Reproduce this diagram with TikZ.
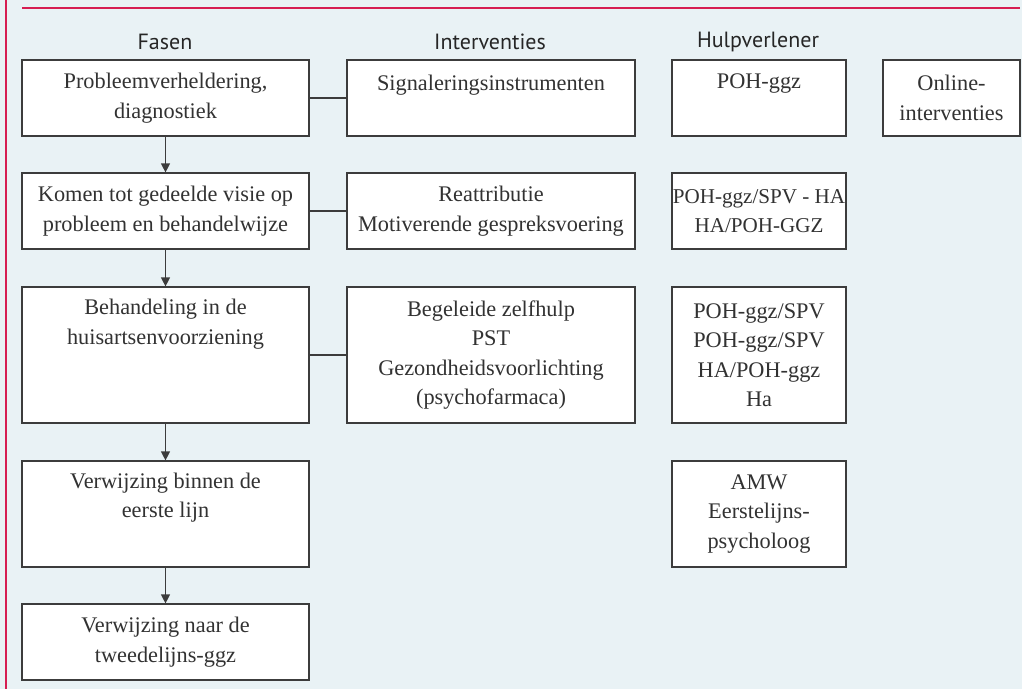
\documentclass[tikz,border=0pt]{standalone}
\usepackage{fontspec}
\setmainfont{Liberation Serif}
\newfontfamily\headfont{PT Sans}
\usetikzlibrary{arrows.meta,calc}
\definecolor{bgblue}{RGB}{233,242,245}
\definecolor{redline}{RGB}{214,30,82}
\definecolor{boxline}{RGB}{60,60,60}
\definecolor{txtgray}{RGB}{50,50,50}
\tikzset{
  box/.style={draw=boxline, line width=1.2pt, fill=white, inner sep=0pt, minimum height=76pt},
  fcol/.style={minimum width=287pt},
  icol/.style={minimum width=288pt},
  hcol/.style={minimum width=174pt},
  txt/.style={text=txtgray, align=center, inner sep=0pt, font=\fontsize{22.3}{29.5}\selectfont},
  head/.style={text=black!85, inner sep=0pt, font=\headfont\fontsize{22}{26}\selectfont},
  conn/.style={draw=boxline, line width=1.2pt},
  arr/.style={conn, -{Triangle[length=9pt,width=9pt]}},
}
\begin{document}
\begin{tikzpicture}[x=1pt,y=-1pt]
\useasboundingbox (0,0) rectangle (1022,689);
\fill[bgblue] (0,0) rectangle (1022,689);
\draw[redline, line width=2pt] (6,0) -- (6,689);
\draw[redline, line width=1.5pt] (22,8) -- (1020,8);

% headers
\node[head] (hf) at (165,42) {Fasen};
\node[head] (hi) at (490,42) {Interventies};
\node[head] (hh) at (758,42) {Hulpverlener};

% Fasen column
\node[box,fcol,txt] (f1) at (165.5,98) {Probleemverheldering,\\diagnostiek};
\node[box,fcol,txt] (f2) at (165.5,211) {Komen tot gedeelde visie op\\probleem en behandelwijze};
\node[box,fcol,minimum height=136pt] (f3) at (165.5,355) {};
\node[txt] (f3t) at ($(f3.north)+(0,38)$) {Behandeling in de\\huisartsenvoorziening};
\node[box,fcol,minimum height=106pt] (f4) at (165.5,514) {};
\node[txt] (f4t) at ($(f4.north)+(0,37)$) {Verwijzing binnen de\\eerste lijn};
\node[box,fcol,txt] (f5) at (165.5,642) {Verwijzing naar de\\tweedelijns-ggz};

% Interventies column
\node[box,icol,txt] (i1) at (491,98) {Signaleringsinstrumenten\\ };
\node[box,icol,txt] (i2) at (491,211) {Reattributie\\Motiverende gespreksvoering};
\node[box,icol,txt,minimum height=136pt] (i3) at (491,355) {Begeleide zelfhulp\\PST\\Gezondheidsvoorlichting\\(psychofarmaca)};

% Hulpverlener column
\node[box,hcol] (h1) at (759,98) {};
\node[txt] (h1t) at ($(h1.north)+(0,24)$) {POH-ggz};
\node[box,hcol] (h2) at (759,211) {};
\node[txt, font=\fontsize{21.1}{29.5}\selectfont] (h2t) at (h2.center) {POH-ggz/SPV - HA\\HA/POH-GGZ};
\node[box,hcol,txt,minimum height=136pt] (h3) at (759,355) {POH-ggz/SPV\\POH-ggz/SPV\\HA/POH-ggz\\Ha};
\node[box,hcol,txt,minimum height=106pt] (h4) at (759,514) {AMW\\Eerstelijns-\\psycholoog};

% Online
\node[box,txt,minimum width=137pt] (o1) at (951.5,98) {Online-\\interventies};

% connectors
\draw[conn] (f1) -- (i1);
\draw[conn] (f2) -- (i2);
\draw[conn] (f3) -- (i3);
\draw[arr] (f1) -- (f2);
\draw[arr] (f2) -- (f3);
\draw[arr] (f3) -- (f4);
\draw[arr] (f4) -- (f5);
\end{tikzpicture}
\end{document}
